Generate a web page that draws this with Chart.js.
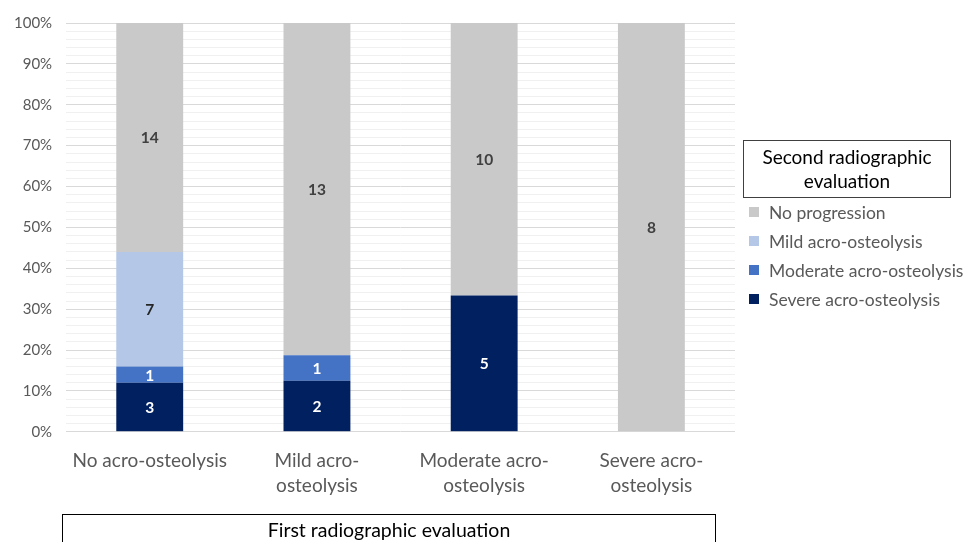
<!DOCTYPE html>
<html>
<head>
<meta charset="utf-8">
<script src="https://cdn.jsdelivr.net/npm/chart.js@4/dist/chart.umd.min.js"></script>
<style>
  html, body { margin: 0; padding: 0; background: #fff; }
  #wrap { position: relative; width: 966px; height: 542px; overflow: hidden; font-family: Lato, "Open Sans", sans-serif; }
  #chart { position: absolute; left: 0; top: 0; }
  #legend { position: absolute; left: 743px; top: 140px; width: 223px; }
  #legend .title { width: 208px; border: 1px solid #404040; text-align: center;
    font-size: 19px; line-height: 24px; color: #000; padding-top: 4px; box-sizing: border-box; height: 58px; }
  #legend .item { position: relative; height: 29px; font-size: 17.5px; color: #595959; }
  #legend .sw { position: absolute; left: 6px; top: 9px; width: 10px; height: 10px; }
  #legend .lbl { position: absolute; left: 26px; top: 0px; white-space: nowrap; line-height: 29px; }
  #xtitle { position: absolute; left: 62px; top: 514px; width: 654px; height: 60px; border: 1px solid #000;
    box-sizing: border-box; text-align: center; font-size: 19.5px; color: #000; padding-top: 3px; }
</style>
</head>
<body>
<div id="wrap">
  <canvas id="chart" width="966" height="542"></canvas>
  <div id="legend"></div>
  <div id="xtitle">First radiographic evaluation</div>
</div>
<script>
// Patients grouped by first evaluation, split by second evaluation result
const categories = [
  ["No acro-osteolysis"],
  ["Mild acro-", "osteolysis"],
  ["Moderate acro-", "osteolysis"],
  ["Severe acro-", "osteolysis"]
];
const severeCounts   = [3, 2, 5, 0];
const moderateCounts = [1, 1, 0, 0];
const mildCounts     = [7, 0, 0, 0];
const noProgCounts   = [14, 13, 10, 8];

const seriesNames = ["Severe acro-osteolysis", "Moderate acro-osteolysis", "Mild acro-osteolysis", "No progression"];
const seriesColors = ["#002060", "#4472C4", "#B4C7E7", "#C9C9C9"];
const labelColors = ["#ffffff", "#ffffff", "#262626", "#404040"];
const seriesCounts = [severeCounts, moderateCounts, mildCounts, noProgCounts];

// Column totals, used to express each stack as 100%
const totals = categories.map((_, i) => seriesCounts.reduce((s, arr) => s + arr[i], 0));

const datasets = seriesCounts.map((counts, k) => ({
  label: seriesNames[k],
  data: counts.map((c, i) => c / totals[i] * 100),
  counts: counts,
  backgroundColor: seriesColors[k],
  borderWidth: 0,
  categoryPercentage: 1.0,
  barPercentage: 0.4
}));

// Writes the count in the middle of each segment
const countLabels = {
  id: 'countLabels',
  afterDatasetsDraw(chart) {
    const ctx = chart.ctx;
    ctx.save();
    ctx.font = 'bold 15.5px Lato, "Open Sans", sans-serif';
    ctx.textAlign = 'center';
    ctx.textBaseline = 'middle';
    chart.data.datasets.forEach((ds, k) => {
      const meta = chart.getDatasetMeta(k);
      meta.data.forEach((bar, i) => {
        const c = ds.counts[i];
        if (!c) return;
        ctx.fillStyle = labelColors[k];
        ctx.fillText(String(c), bar.x, (bar.y + bar.base) / 2 + 1);
      });
    });
    ctx.restore();
  }
};

new Chart(document.getElementById('chart'), {
  type: 'bar',
  data: { labels: categories, datasets: datasets },
  options: {
    responsive: false,
    animation: false,
    devicePixelRatio: 1,
    layout: { padding: { left: 0, right: 231, top: 15, bottom: 36 } },
    plugins: { legend: { display: false }, tooltip: { enabled: false } },
    scales: {
      x: {
        stacked: true,
        grid: { display: false },
        border: { display: false },
        ticks: {
          color: '#595959',
          font: { family: 'Lato, "Open Sans", sans-serif', size: 19, lineHeight: 1.32 },
          padding: 8,
          maxRotation: 0
        }
      },
      y: {
        stacked: true,
        min: 0,
        max: 100,
        border: { display: false },
        grid: {
          color: (ctx) => (ctx.tick && ctx.tick.value % 10 === 0) ? '#D9D9D9' : '#F0F0F0',
          lineWidth: 1,
          drawTicks: false
        },
        ticks: {
          stepSize: 2,
          autoSkip: false,
          padding: 14,
          color: '#595959',
          font: { family: 'Lato, "Open Sans", sans-serif', size: 15 },
          callback: (v) => (v % 10 === 0 ? v + '%' : '')
        }
      }
    }
  },
  plugins: [countLabels]
});

// Legend: listed top-down in the reverse of the stacking order
const legend = document.getElementById('legend');
const title = document.createElement('div');
title.className = 'title';
title.innerHTML = 'Second radiographic<br>evaluation';
legend.appendChild(title);
for (let k = seriesNames.length - 1; k >= 0; k--) {
  const it = document.createElement('div');
  it.className = 'item';
  const sw = document.createElement('span');
  sw.className = 'sw';
  sw.style.background = seriesColors[k];
  const lb = document.createElement('span');
  lb.className = 'lbl';
  lb.textContent = seriesNames[k];
  it.appendChild(sw);
  it.appendChild(lb);
  legend.appendChild(it);
}
</script>
</body>
</html>
